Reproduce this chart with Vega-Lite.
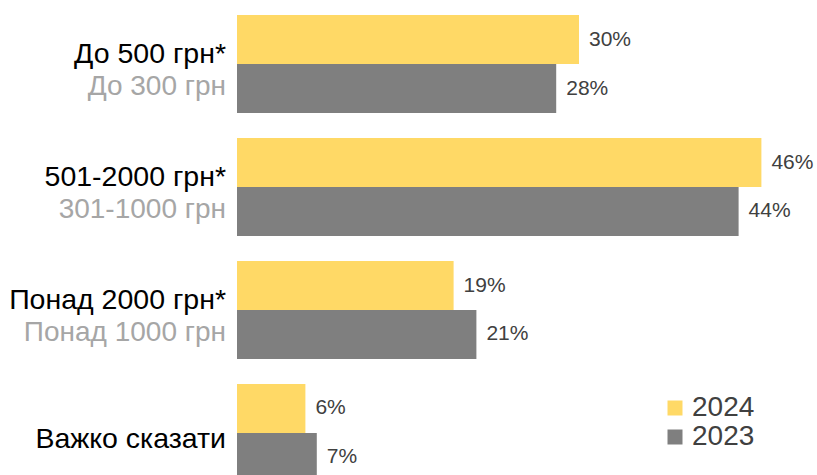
{
  "$schema": "https://vega.github.io/schema/vega-lite/v6.json",
  "width": 570,
  "height": 497,
  "autosize": {"type": "none"},
  "padding": {"left": 237, "top": 0, "right": 10, "bottom": 0},
  "background": "white",
  "config": {
    "view": {"stroke": null},
    "font": "Liberation Sans",
    "text": {"font": "Liberation Sans"}
  },
  "datasets": {
    "bars": [
      {"cat": "A", "year": "2024", "value": 0.30},
      {"cat": "A", "year": "2023", "value": 0.28},
      {"cat": "B", "year": "2024", "value": 0.46},
      {"cat": "B", "year": "2023", "value": 0.44},
      {"cat": "C", "year": "2024", "value": 0.19},
      {"cat": "C", "year": "2023", "value": 0.21},
      {"cat": "D", "year": "2024", "value": 0.06},
      {"cat": "D", "year": "2023", "value": 0.07}
    ],
    "labels": [
      {"cat": "A", "kind": "main", "text": "До 500 грн*"},
      {"cat": "A", "kind": "sub", "text": "До 300 грн"},
      {"cat": "B", "kind": "main", "text": "501-2000 грн*"},
      {"cat": "B", "kind": "sub", "text": "301-1000 грн"},
      {"cat": "C", "kind": "main", "text": "Понад 2000 грн*"},
      {"cat": "C", "kind": "sub", "text": "Понад 1000 грн"},
      {"cat": "D", "kind": "single", "text": "Важко сказати"}
    ]
  },
  "layer": [
    {
      "data": {"name": "bars"},
      "mark": {"type": "bar", "stroke": null},
      "encoding": {
        "y": {"field": "cat", "type": "nominal", "axis": null,
              "scale": {"domain": ["A", "B", "C", "D"], "paddingInner": 0.2033, "paddingOuter": 0.122}},
        "yOffset": {"field": "year", "type": "nominal",
                    "scale": {"domain": ["2024", "2023"], "paddingInner": 0, "paddingOuter": 0}},
        "x": {"field": "value", "type": "quantitative", "axis": null,
              "scale": {"domain": [0, 0.5], "nice": false, "zero": true}},
        "color": {"field": "year", "type": "nominal",
                  "scale": {"domain": ["2024", "2023"], "range": ["#FFD966", "#7F7F7F"]},
                  "legend": {"title": null, "orient": "none", "legendX": 424, "legendY": 394,
                             "symbolType": "square", "symbolSize": 225, "symbolStrokeWidth": 0,
                             "labelFontSize": 28, "labelColor": "#404040", "labelFont": "Liberation Sans",
                             "labelOffset": 3, "rowPadding": 1, "padding": 0}}
      }
    },
    {
      "data": {"name": "bars"},
      "mark": {"type": "text", "align": "left", "baseline": "middle", "dx": 10, "fontSize": 21, "color": "#404040"},
      "encoding": {
        "y": {"field": "cat", "type": "nominal"},
        "yOffset": {"field": "year", "type": "nominal"},
        "x": {"field": "value", "type": "quantitative"},
        "text": {"field": "value", "type": "quantitative", "format": ".0%"}
      }
    },
    {
      "data": {"name": "labels"},
      "transform": [{"filter": "datum.kind === 'main'"}],
      "mark": {"type": "text", "align": "right", "baseline": "alphabetic", "dx": -11, "dy": -1, "fontSize": 28.5, "color": "#000000"},
      "encoding": {
        "y": {"field": "cat", "type": "nominal"},
        "x": {"datum": 0, "type": "quantitative"},
        "text": {"field": "text"}
      }
    },
    {
      "data": {"name": "labels"},
      "transform": [{"filter": "datum.kind === 'sub'"}],
      "mark": {"type": "text", "align": "right", "baseline": "alphabetic", "dx": -11, "dy": 31, "fontSize": 28, "color": "#A6A6A6"},
      "encoding": {
        "y": {"field": "cat", "type": "nominal"},
        "x": {"datum": 0, "type": "quantitative"},
        "text": {"field": "text"}
      }
    },
    {
      "data": {"name": "labels"},
      "transform": [{"filter": "datum.kind === 'single'"}],
      "mark": {"type": "text", "align": "right", "baseline": "alphabetic", "dx": -11, "dy": 15, "fontSize": 28.5, "color": "#000000"},
      "encoding": {
        "y": {"field": "cat", "type": "nominal"},
        "x": {"datum": 0, "type": "quantitative"},
        "text": {"field": "text"}
      }
    }
  ]
}
